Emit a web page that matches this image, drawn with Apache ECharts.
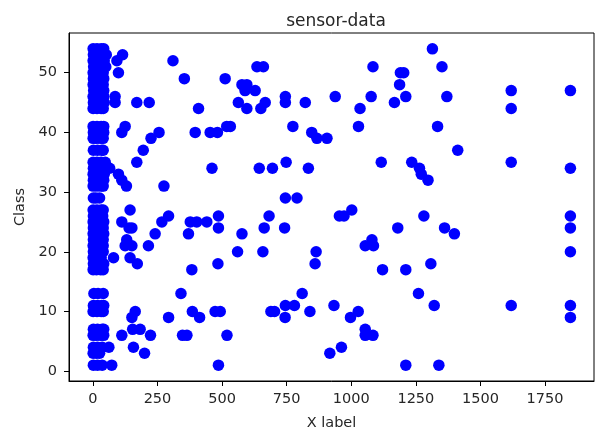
<!DOCTYPE html>
<html>
<head>
<meta charset="utf-8">
<script src="https://cdn.jsdelivr.net/npm/echarts@6/dist/echarts.min.js"></script>
<style>
  html, body { margin: 0; padding: 0; background: #fff; }
  #chart { width: 596px; height: 436px; }
</style>
</head>
<body>
<div id="chart"></div>
<script>
var xTicks = [0, 250, 500, 750, 1000, 1250, 1500, 1750];
var yTicks = [0, 10, 20, 30, 40, 50];

// dense column of readings close to x = 0
var nearZero = [
  [1, 54], [16, 54], [32, 54], [42, 54],
  [2, 53], [18, 53], [34, 53], [52, 53],
  [1, 52], [15, 52], [30, 52], [44, 52],
  [3, 51], [20, 51], [36, 51], [50, 51],
  [1, 50], [14, 50], [30, 50], [40, 50],
  [2, 49], [18, 49], [34, 49], [42, 49],
  [1, 48], [16, 48], [32, 48], [40, 48],
  [3, 47], [20, 47], [36, 47], [42, 47],
  [1, 46], [14, 46], [30, 46], [42, 46],
  [2, 45], [18, 45], [34, 45], [44, 45],
  [1, 44], [16, 44], [32, 44], [40, 44],
  [1, 41], [16, 41], [32, 41], [42, 41],
  [2, 40], [20, 40], [36, 40], [42, 40],
  [1, 39], [14, 39], [30, 39], [40, 39],
  [2, 37], [18, 37], [34, 37], [40, 37],
  [1, 35], [16, 35], [32, 35], [48, 35],
  [2, 34], [20, 34], [38, 34], [65, 34],
  [1, 33], [14, 33], [30, 33], [44, 33],
  [2, 32], [18, 32], [34, 32], [42, 32],
  [1, 31], [16, 31], [32, 31], [40, 31],
  [2, 29], [12, 29], [26, 29],
  [1, 27], [16, 27], [32, 27], [40, 27],
  [2, 26], [20, 26], [38, 26],
  [1, 25], [14, 25], [30, 25], [42, 25],
  [2, 24], [18, 24], [34, 24], [40, 24],
  [1, 23], [16, 23], [32, 23], [42, 23],
  [2, 22], [20, 22], [36, 22], [40, 22],
  [1, 21], [14, 21], [30, 21], [40, 21],
  [2, 20], [18, 20], [34, 20], [40, 20],
  [1, 19], [16, 19], [32, 19],
  [2, 18], [20, 18], [36, 18], [42, 18],
  [1, 17], [14, 17], [30, 17], [40, 17],
  [4, 13], [20, 13], [40, 13],
  [2, 11], [18, 11], [34, 11], [42, 11],
  [1, 10], [16, 10], [32, 10], [40, 10],
  [2, 7], [18, 7], [36, 7], [42, 7],
  [1, 6], [14, 6], [30, 6], [42, 6],
  [2, 4], [18, 4], [36, 4], [62, 4],
  [1, 3], [14, 3], [26, 3],
  [2, 1], [18, 1], [36, 1], [73, 1]
];

// x between ~80 and ~500
var leftSpread = [
  [93, 52], [115, 53], [99, 50], [310, 52], [354, 49],
  [86, 46], [86, 45], [170, 45], [218, 45],
  [125, 41], [112, 40], [256, 40], [225, 39], [195, 37],
  [170, 35], [99, 33], [112, 32], [130, 31], [275, 31],
  [144, 27], [112, 25], [140, 24], [151, 24], [267, 25], [293, 26],
  [241, 23], [215, 21], [131, 22], [125, 21], [151, 21],
  [80, 19], [144, 19], [172, 18],
  [341, 13], [164, 10], [151, 9], [293, 9], [112, 6],
  [154, 7], [183, 7], [223, 6], [157, 4], [200, 3],
  [409, 44], [396, 40], [454, 40], [482, 40], [461, 34],
  [377, 25], [402, 25], [441, 25], [486, 26], [486, 24], [370, 23],
  [383, 17], [484, 18],
  [385, 10], [413, 9], [473, 10], [493, 10], [347, 6], [364, 6], [486, 1]
];

// x between ~500 and ~1000
var midSpread = [
  [512, 49], [635, 51], [660, 51], [577, 48], [596, 48], [589, 47], [628, 47],
  [563, 45], [596, 44], [667, 45], [650, 44],
  [518, 41], [532, 41], [644, 34], [695, 34], [748, 35], [834, 34],
  [745, 29], [790, 29], [745, 46], [745, 45], [822, 45], [938, 46],
  [774, 41], [847, 40], [867, 39], [906, 39],
  [519, 6], [577, 23], [682, 26], [663, 24], [742, 24], [560, 20], [658, 20],
  [864, 20], [860, 18], [954, 26], [972, 26],
  [689, 10], [703, 10], [744, 9], [745, 11], [780, 11], [810, 13], [840, 10],
  [933, 11], [917, 3], [962, 4]
];

// x beyond ~1000
var farSpread = [
  [1314, 54], [1084, 51], [1351, 51], [1190, 50], [1203, 50], [1187, 48],
  [1077, 46], [1211, 46], [1370, 46], [1167, 45], [1034, 44],
  [1028, 41], [1334, 41], [1412, 37], [1116, 35], [1234, 35],
  [1264, 34], [1271, 33], [1297, 32],
  [1002, 27], [1180, 24], [1281, 26], [1361, 24], [1399, 23],
  [1054, 21], [1080, 22], [1086, 21], [1121, 17], [1211, 17], [1308, 18],
  [1260, 13], [1321, 11], [1027, 10], [997, 9],
  [1054, 7], [1054, 6], [1084, 6], [1211, 1], [1339, 1],
  [1619, 47], [1619, 44], [1619, 35], [1619, 11],
  [1848, 47], [1848, 34], [1848, 26], [1848, 24], [1848, 20], [1848, 11], [1848, 9]
];

var points = nearZero.concat(leftSpread, midSpread, farSpread);

var chartDom = document.getElementById('chart');
var myChart = echarts.init(chartDom);
var option;

var textColor = '#262626';
var font = 'DejaVu Sans';

option = {
    animation: false,
    title: {
        text: 'sensor-data',
        left: 331,
        top: 8,
        textAlign: 'center',
        textStyle: { fontFamily: font, fontSize: 17, fontWeight: 'normal', color: textColor }
    },
    grid: {
        left: 69, right: 2, top: 33, bottom: 52,
        show: true, borderColor: '#000', borderWidth: 1, backgroundColor: '#fff'
    },
    xAxis: {
        type: 'value',
        min: -92.35,
        max: 1939.35,
        name: 'X label',
        nameLocation: 'middle',
        nameGap: 35,
        nameTextStyle: { fontFamily: font, fontSize: 14.5, color: textColor },
        axisLine: { show: true, onZero: false, lineStyle: { color: '#000', width: 1 } },
        axisTick: { show: true, length: 5, customValues: xTicks, lineStyle: { color: '#000' } },
        axisLabel: {
            customValues: xTicks,
            margin: 11,
            fontFamily: font, fontSize: 14.5, color: textColor,
            formatter: function (v) { return String(v); }
        },
        splitLine: { show: false }
    },
    yAxis: {
        type: 'value',
        min: -1.65,
        max: 56.65,
        name: 'Class',
        nameLocation: 'middle',
        nameGap: 37,
        nameTextStyle: { fontFamily: font, fontSize: 14.5, color: textColor },
        axisLine: { show: true, onZero: false, lineStyle: { color: '#000', width: 1 } },
        axisTick: { show: true, length: 5, customValues: yTicks, lineStyle: { color: '#000' } },
        axisLabel: {
            customValues: yTicks,
            margin: 12,
            fontFamily: font, fontSize: 14.5, color: textColor,
            formatter: function (v) { return String(v); }
        },
        splitLine: { show: false }
    },
    series: [
        {
            type: 'scatter',
            data: points,
            symbol: 'circle',
            symbolSize: 11.5,
            itemStyle: { color: '#0000ff', opacity: 1 },
            emphasis: { disabled: true }
        }
    ]
};

option && myChart.setOption(option);
</script>
</body>
</html>
